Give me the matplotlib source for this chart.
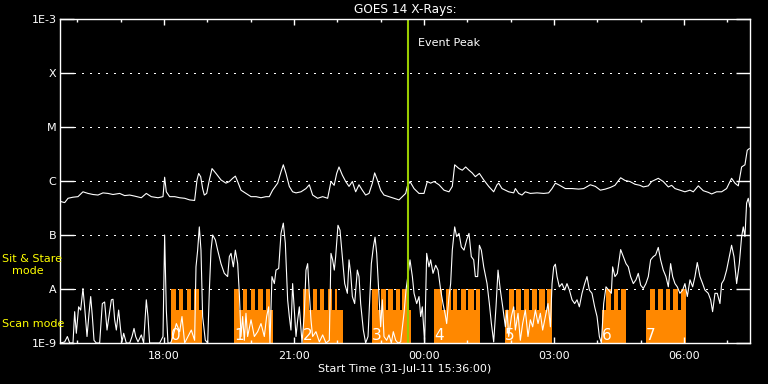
import numpy as np
import matplotlib
matplotlib.use("Agg")
import matplotlib.pyplot as plt
import matplotlib.dates as mdates

# ---------------- DATA ---------------- #
start = np.datetime64("2011-07-31T15:36:00")
end_min = 955.4
peak_min = 481.8  # event peak, minutes after start

# long channel (1-8 A), minutes after start / log10 flux
long_t = [0.9, 6.5, 11.1, 18.0, 24.9, 31.8, 38.8, 45.7, 52.6, 59.5,
          66.5, 73.4, 82.6, 89.5, 96.5, 103.4, 112.6, 119.5, 126.4, 135.7,
          142.6, 144.9, 147.2, 151.8, 158.8, 165.7, 172.6, 179.5, 186.4, 189.7,
          192.0, 194.8, 197.5, 199.8, 203.1, 206.8, 210.5, 216.0, 222.9, 229.8,
          234.5, 239.1, 242.8, 246.0, 250.6, 257.5, 264.5, 271.4, 278.3, 285.2,
          289.8, 294.4, 301.4, 306.0, 309.2, 312.9, 317.5, 322.1, 326.8, 333.7,
          340.6, 345.2, 349.8, 356.7, 363.7, 370.6, 375.2, 379.6, 383.1, 386.3,
          390.9, 395.6, 400.2, 404.8, 409.4, 414.0, 418.6, 423.2, 427.9, 432.5,
          435.7, 439.4, 444.0, 448.6, 455.5, 462.5, 469.4, 474.0, 478.6, 480.9,
          484.6, 490.2, 497.1, 504.0, 508.6, 513.2, 517.9, 524.8, 531.7, 538.6,
          543.2, 546.5, 552.5, 557.1, 561.7, 566.3, 570.7, 575.1, 580.7, 586.7,
          593.6, 600.5, 605.1, 607.4, 612.0, 621.3, 628.2, 630.5, 635.1, 639.7,
          644.3, 651.3, 660.5, 669.7, 676.6, 681.3, 685.9, 690.5, 699.7, 709.0,
          718.2, 725.1, 734.3, 741.3, 748.2, 755.1, 762.0, 768.4, 776.3, 782.3,
          789.2, 796.1, 803.0, 807.7, 814.6, 819.2, 828.4, 835.3, 842.3, 846.9,
          851.5, 858.4, 865.3, 872.3, 876.9, 883.8, 890.7, 897.6, 902.3, 909.2,
          916.1, 923.0, 929.9, 934.6, 939.2, 943.8, 948.4, 951.6, 954.4]
long_log = [-6.38, -6.40, -6.32, -6.30, -6.29, -6.20, -6.23, -6.25, -6.26, -6.22,
            -6.23, -6.25, -6.23, -6.27, -6.26, -6.28, -6.31, -6.23, -6.29, -6.31,
            -6.29, -5.93, -6.20, -6.29, -6.29, -6.31, -6.32, -6.35, -6.36, -5.98,
            -5.86, -5.92, -6.14, -6.26, -6.23, -5.98, -5.77, -5.86, -5.98, -6.04,
            -6.01, -5.95, -5.91, -6.01, -6.17, -6.23, -6.29, -6.29, -6.31, -6.29,
            -6.29, -6.17, -6.04, -5.83, -5.70, -5.86, -6.10, -6.20, -6.22, -6.20,
            -6.14, -6.07, -6.26, -6.32, -6.29, -6.32, -6.01, -6.08, -5.86, -5.74,
            -5.89, -6.01, -6.10, -6.01, -6.20, -6.07, -6.17, -6.26, -6.23, -6.04,
            -5.85, -5.98, -6.17, -6.26, -6.29, -6.32, -6.35, -6.29, -6.23, -6.10,
            -6.01, -6.14, -6.23, -6.23, -6.01, -6.04, -6.01, -6.07, -6.17, -6.20,
            -6.10, -5.70, -5.77, -5.80, -5.74, -5.80, -5.85, -5.92, -5.86, -5.98,
            -6.10, -6.20, -6.07, -6.04, -6.14, -6.20, -6.22, -6.14, -6.23, -6.26,
            -6.20, -6.23, -6.22, -6.23, -6.22, -6.14, -6.04, -6.07, -6.14, -6.14,
            -6.15, -6.14, -6.07, -6.10, -6.17, -6.15, -6.12, -6.08, -5.94, -5.99,
            -6.01, -6.06, -6.08, -6.11, -6.09, -6.01, -5.95, -6.01, -6.11, -6.08,
            -6.14, -6.17, -6.20, -6.17, -6.20, -6.09, -6.18, -6.21, -6.24, -6.20,
            -6.20, -6.14, -5.95, -6.04, -6.09, -5.74, -5.70, -5.43, -5.40]

# short channel (0.5-4 A)
short_t = [0.9, 6.5, 10.2, 13.4, 18.0, 20.3, 22.6, 25.8, 28.6, 31.8,
           34.1, 37.4, 40.2, 42.5, 44.8, 47.1, 50.3, 54.9, 58.6, 61.8,
           65.1, 67.8, 71.1, 73.4, 75.7, 78.0, 81.2, 83.5, 85.8, 88.2,
           91.8, 96.5, 99.7, 102.5, 104.8, 108.0, 112.6, 115.8, 119.5, 121.8,
           124.1, 131.1, 138.0, 142.6, 144.9, 147.2, 149.5, 153.2, 156.4, 161.1,
           165.7, 168.9, 172.6, 177.2, 181.8, 186.4, 188.3, 190.6, 192.9, 195.2,
           197.5, 201.2, 204.5, 206.8, 209.1, 211.4, 215.1, 218.3, 222.9, 227.5,
           232.1, 234.5, 236.8, 240.0, 242.8, 246.0, 248.3, 250.6, 252.9, 255.2,
           257.5, 259.8, 264.5, 269.1, 273.7, 278.3, 282.9, 286.1, 288.9, 290.7,
           293.5, 296.8, 299.1, 302.8, 306.0, 309.2, 312.0, 315.2, 317.5, 319.8,
           322.1, 324.4, 326.8, 329.1, 331.4, 335.1, 338.3, 340.6, 342.9, 345.2,
           347.5, 349.8, 354.4, 359.1, 363.7, 368.3, 372.9, 375.2, 377.5, 379.8,
           381.7, 384.9, 387.7, 390.9, 394.2, 397.9, 400.2, 402.5, 404.8, 408.0,
           411.7, 414.0, 416.3, 420.0, 423.2, 426.5, 429.2, 431.1, 433.9, 436.2,
           438.5, 440.8, 444.0, 446.3, 448.6, 452.3, 455.5, 458.8, 461.5, 464.8,
           468.0, 471.7, 476.3, 479.1, 484.6, 487.9, 490.2, 493.9, 497.1, 499.4,
           501.7, 504.9, 507.7, 510.9, 513.2, 516.5, 520.2, 523.4, 527.1, 530.3,
           533.1, 535.4, 538.6, 540.9, 543.2, 546.5, 549.2, 552.5, 555.7, 559.4,
           563.1, 566.3, 569.5, 572.8, 575.1, 578.3, 580.7, 583.4, 586.7, 591.3,
           594.5, 597.3, 600.5, 603.7, 606.5, 609.7, 613.0, 616.7, 619.0, 621.3,
           625.0, 628.2, 630.5, 634.2, 637.4, 640.6, 644.3, 648.0, 651.3, 654.5,
           658.2, 661.9, 665.1, 668.3, 672.0, 675.7, 679.0, 681.3, 683.6, 685.9,
           688.2, 691.4, 695.1, 698.8, 702.0, 705.3, 709.0, 712.6, 715.9, 719.1,
           722.8, 726.5, 729.7, 733.0, 736.6, 740.3, 743.6, 746.8, 749.6, 752.8,
           756.0, 759.7, 763.4, 765.2, 768.4, 771.7, 776.3, 780.0, 783.7, 786.9,
           790.1, 793.8, 797.5, 800.7, 804.0, 807.7, 811.3, 814.6, 817.8, 821.5,
           824.7, 828.4, 831.6, 835.3, 839.0, 842.3, 845.5, 848.3, 851.5, 854.7,
           858.4, 862.1, 865.3, 868.6, 872.3, 876.0, 879.2, 882.4, 886.1, 889.8,
           893.0, 897.6, 900.9, 903.6, 906.9, 910.1, 913.8, 916.1, 919.3, 923.0,
           926.7, 929.9, 933.2, 936.9, 940.6, 943.8, 946.1, 948.4, 950.7, 953.0,
           955.3]
short_log = [-9.0, -8.98, -8.88, -9.0, -9.0, -8.42, -8.82, -8.33, -8.39, -7.99,
             -8.33, -8.88, -8.45, -8.14, -8.51, -8.95, -9.0, -9.0, -8.27, -8.24,
             -8.76, -8.51, -8.20, -8.19, -8.57, -8.76, -8.39, -8.70, -8.98, -8.82,
             -9.0, -9.0, -8.88, -8.73, -8.88, -8.98, -8.85, -9.0, -8.20, -8.51,
             -9.0, -9.0, -9.0, -8.88, -7.00, -8.39, -9.0, -9.0, -8.88, -8.64,
             -8.79, -8.51, -9.0, -8.88, -8.76, -8.95, -7.59, -7.28, -6.85, -7.28,
             -8.51, -8.95, -9.0, -8.02, -7.28, -7.00, -7.09, -7.28, -7.53, -7.71,
             -7.77, -7.40, -7.34, -7.59, -7.28, -7.53, -8.08, -8.88, -8.51, -8.95,
             -8.45, -8.88, -8.57, -8.88, -8.79, -8.64, -8.88, -8.51, -8.33, -9.0,
             -7.77, -7.90, -7.65, -7.62, -6.97, -6.78, -7.15, -8.20, -8.51, -8.76,
             -7.90, -8.39, -8.88, -8.57, -8.33, -9.0, -8.45, -7.65, -7.53, -8.08,
             -8.57, -8.88, -8.79, -8.98, -8.85, -9.0, -8.95, -7.34, -7.46, -7.65,
             -7.40, -6.82, -6.91, -7.40, -7.90, -8.08, -7.46, -7.71, -8.14, -8.27,
             -7.65, -7.77, -8.27, -8.76, -9.0, -8.88, -8.08, -7.53, -7.22, -7.04,
             -7.34, -7.90, -8.70, -8.20, -8.88, -8.95, -8.85, -9.0, -8.79, -8.95,
             -9.0, -8.98, -8.45, -8.02, -7.46, -7.77, -8.08, -8.27, -8.14, -8.51,
             -8.33, -9.0, -7.34, -7.59, -7.46, -7.71, -7.56, -7.65, -8.02, -8.27,
             -8.45, -8.64, -8.14, -7.90, -7.28, -6.85, -7.03, -6.97, -7.22, -7.28,
             -7.09, -6.97, -7.40, -7.46, -7.77, -7.77, -7.19, -7.28, -7.59, -7.90,
             -8.27, -8.64, -8.98, -8.33, -7.65, -8.02, -8.33, -8.70, -8.39, -8.88,
             -8.51, -8.33, -8.76, -8.45, -8.95, -8.64, -8.39, -8.88, -8.57, -8.70,
             -8.39, -8.64, -8.45, -8.76, -8.51, -8.27, -8.70, -7.90, -7.59, -7.54,
             -7.77, -7.96, -7.90, -8.02, -7.90, -8.02, -8.20, -8.27, -8.20, -8.33,
             -8.08, -7.90, -7.77, -8.02, -8.08, -8.33, -8.51, -8.88, -9.0, -8.27,
             -7.96, -8.02, -8.08, -7.59, -7.77, -7.71, -7.27, -7.40, -7.53, -7.59,
             -7.77, -7.90, -7.83, -7.71, -7.93, -7.99, -7.90, -7.77, -7.46, -7.40,
             -7.37, -7.23, -7.46, -7.65, -7.77, -7.96, -7.53, -7.77, -7.90, -7.96,
             -8.08, -8.02, -7.90, -8.14, -7.83, -7.96, -7.77, -7.51, -7.77, -7.90,
             -8.02, -8.08, -8.20, -8.42, -8.08, -8.08, -8.27, -7.90, -7.83, -7.65,
             -7.40, -7.19, -7.40, -7.90, -7.53, -7.03, -6.85, -7.03, -6.41, -6.32,
             -6.48]

# observing mode timeline: 0 = none, 1 = scan, 2 = sit & stare
mode_t = [0, 153.7, 160.2, 165.2, 170.7, 175.4, 181.4, 186.0, 192.0, 197.0,
          240.9, 248.3, 253.8, 259.3, 264.5, 270.0, 274.6, 280.6, 285.2, 290.8, 294.5,
          336.9, 345.2, 349.8, 355.4, 360.0, 366.0, 370.7, 376.1, 380.4, 384.0, 391.4,
          431.6, 440.7, 444.0, 451.0, 454.2, 461.1, 464.8, 470.8, 474.0, 480.0, 485.6,
          517.8, 529.3, 534.0, 540.9, 544.1, 550.1, 554.8, 561.7, 564.9, 572.8, 576.0, 581.9,
          615.7, 621.2, 628.2, 631.8, 638.7, 642.9, 649.8, 653.5, 660.5, 663.6, 671.1, 674.3, 681.2,
          750.5, 756.0, 762.9, 767.1, 772.2, 776.8, 783.7,
          811.4, 816.9, 823.8, 828.4, 834.4, 839.0, 844.6, 849.2, 856.1, 859.9, 866.8, 955.4]
mode_code = [0, 2, 1, 2, 1, 2, 1, 2, 1, 0,
             2, 1, 2, 1, 2, 1, 2, 1, 2, 1, 0,
             2, 1, 2, 1, 2, 1, 2, 1, 2, 1, 0,
             2, 1, 2, 1, 2, 1, 2, 1, 2, 1, 0,
             2, 1, 2, 1, 2, 1, 2, 1, 2, 1, 2, 0,
             1, 2, 1, 2, 1, 2, 1, 2, 1, 2, 1, 2, 0,
             1, 2, 1, 2, 1, 2, 0,
             1, 2, 1, 2, 1, 2, 1, 2, 1, 2, 0, 0]

ytick_vals = [1e-9, 1e-8, 1e-7, 1e-6, 1e-5, 1e-4, 1e-3]
ytick_labels = ["1E-9", "A", "B", "C", "M", "X", "1E-3"]


def at(minutes):
    return start + np.round(np.asarray(minutes) * 60).astype("timedelta64[s]")


# ---------------- FIGURE ---------------- #
W, H = 768, 384
fig = plt.figure(figsize=(W / 100, H / 100), dpi=100, facecolor="black")
ax = fig.add_axes([60 / W, 41 / H, 690 / W, 324 / H])
ax.set_facecolor("black")
for s in ax.spines.values():
    s.set_color("white")
    s.set_linewidth(1.0)

ax.set_yscale("log")
ax.set_ylim(1e-9, 1e-3)
ax.set_xlim(at(0), at(end_min))

# dotted class levels
for lvl in ytick_vals[1:-1]:
    ax.axhline(lvl, xmin=0.021, xmax=0.981, color="white", lw=0.75,
               linestyle=(0, (1, 6.7)), antialiased=False, zorder=0.5)

# mode blocks
heights = np.array([1e-9, 10 ** -8.39, 1e-8])[np.array(mode_code)]
ax.fill_between(at(mode_t), 1e-9, heights, step="post", color="#ff8800",
                lw=0, zorder=1)

ax.plot(at(long_t), 10 ** np.array(long_log), color="white", lw=0.8, zorder=2)
ax.plot(at(short_t), 10 ** np.array(short_log), color="white", lw=0.8, zorder=2)

# block numbers
n = 0
for i in range(1, len(mode_code)):
    if mode_code[i - 1] == 0 and mode_code[i] != 0:
        ax.text(at(mode_t[i]), 1.15e-9, str(n), color="white", fontsize=11,
                ha="left", va="baseline", zorder=3)
        n += 1

# event peak
ax.axvline(at(peak_min), color="#99cc00", lw=1.5, zorder=2.5)
ax.text(at(peak_min + 13.5), 0.926, "Event Peak", color="white", fontsize=8,
        ha="left", va="center", transform=ax.get_xaxis_transform())

# axes ticks
ax.set_yticks(ytick_vals)
ax.set_yticklabels(ytick_labels)
ax.yaxis.set_minor_locator(matplotlib.ticker.NullLocator())
ax.tick_params(axis="y", which="major", direction="in", length=10, width=1,
               colors="white", left=True, right=True, labelsize=8, pad=2.5)

ax.xaxis.set_major_locator(mdates.HourLocator(byhour=range(0, 24, 3)))
ax.xaxis.set_minor_locator(mdates.HourLocator())
ax.xaxis.set_major_formatter(mdates.DateFormatter("%H:%M"))
ax.tick_params(axis="x", which="major", direction="in", length=4.5, width=1,
               colors="white", top=True, bottom=True, labelsize=8, pad=6)
ax.tick_params(axis="x", which="minor", direction="in", length=2.2, width=1,
               colors="white", top=True, bottom=True)

# texts
fig.text(405 / W, 1 - 9 / H, "GOES 14 X-Rays:", color="white", fontsize=8.7,
         ha="center", va="center")
fig.text(405 / W, 1 - 369 / H, "Start Time (31-Jul-11 15:36:00)", color="white",
         fontsize=8, ha="center", va="center")
fig.text(2 / W, 1 - 259 / H, "Sit & Stare", color="yellow", fontsize=8,
         ha="left", va="center")
fig.text(12 / W, 1 - 271 / H, "mode", color="yellow", fontsize=8,
         ha="left", va="center")
fig.text(2 / W, 1 - 324 / H, "Scan mode", color="yellow", fontsize=8,
         ha="left", va="center")

fig.savefig("out.png", dpi=100, facecolor="black")
